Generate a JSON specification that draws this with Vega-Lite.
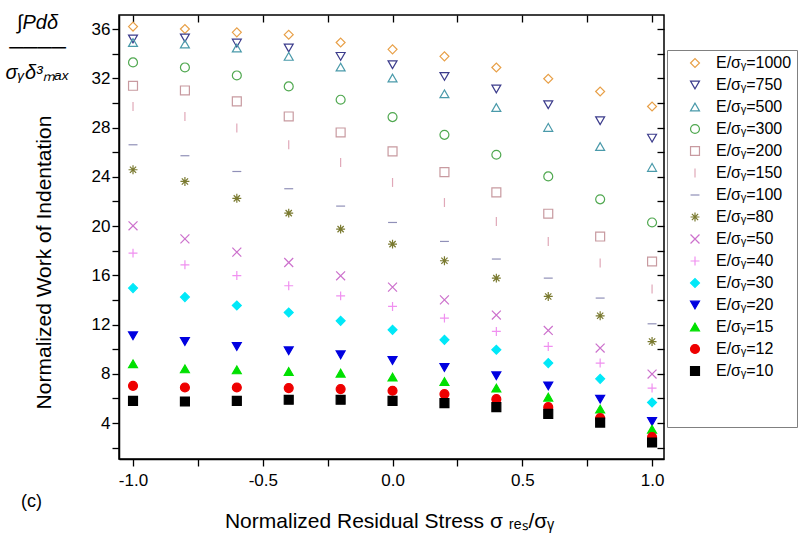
{
"$schema":"https://vega.github.io/schema/vega-lite/v6.json",
"width":545,"height":444,
"autosize":{"type":"none"},
"padding":{"left":119,"top":15,"right":139,"bottom":83},
"background":"white",
"config":{"font":"Liberation Sans","view":{"stroke":"#000","strokeWidth":1.5},
 "axis":{"grid":false,"domainColor":"#000","domainWidth":1.5,"tickColor":"#000","tickWidth":1.3,"labelColor":"#000","titleColor":"#000","labelFont":"Liberation Sans","titleFont":"Liberation Sans","titleFontWeight":"normal"}},
"datasets":{"d":[
{"s":"1000","x":-1,"y":36.2},{"s":"1000","x":-0.8,"y":36.0},{"s":"1000","x":-0.6,"y":35.73},{"s":"1000","x":-0.4,"y":35.54},{"s":"1000","x":-0.2,"y":34.91},{"s":"1000","x":0,"y":34.35},{"s":"1000","x":0.2,"y":33.78},{"s":"1000","x":0.4,"y":32.88},{"s":"1000","x":0.6,"y":31.96},{"s":"1000","x":0.8,"y":30.93},{"s":"1000","x":1,"y":29.71},
{"s":"750","x":-1,"y":35.19},{"s":"750","x":-0.8,"y":35.27},{"s":"750","x":-0.6,"y":34.86},{"s":"750","x":-0.4,"y":34.46},{"s":"750","x":-0.2,"y":33.78},{"s":"750","x":0,"y":33.1},{"s":"750","x":0.2,"y":32.15},{"s":"750","x":0.4,"y":31.13},{"s":"750","x":0.6,"y":29.85},{"s":"750","x":0.8,"y":28.55},{"s":"750","x":1,"y":27.14},
{"s":"500","x":-1,"y":34.91},{"s":"500","x":-0.8,"y":34.78},{"s":"500","x":-0.6,"y":34.46},{"s":"500","x":-0.4,"y":33.78},{"s":"500","x":-0.2,"y":32.91},{"s":"500","x":0,"y":32.02},{"s":"500","x":0.2,"y":30.74},{"s":"500","x":0.4,"y":29.63},{"s":"500","x":0.6,"y":28.01},{"s":"500","x":0.8,"y":26.46},{"s":"500","x":1,"y":24.76},
{"s":"300","x":-1,"y":33.29},{"s":"300","x":-0.8,"y":32.88},{"s":"300","x":-0.6,"y":32.23},{"s":"300","x":-0.4,"y":31.34},{"s":"300","x":-0.2,"y":30.26},{"s":"300","x":0,"y":28.85},{"s":"300","x":0.2,"y":27.41},{"s":"300","x":0.4,"y":25.79},{"s":"300","x":0.6,"y":24.03},{"s":"300","x":0.8,"y":22.17},{"s":"300","x":1,"y":20.29},
{"s":"200","x":-1,"y":31.39},{"s":"200","x":-0.8,"y":31.01},{"s":"200","x":-0.6,"y":30.12},{"s":"200","x":-0.4,"y":28.9},{"s":"200","x":-0.2,"y":27.6},{"s":"200","x":0,"y":26.06},{"s":"200","x":0.2,"y":24.38},{"s":"200","x":0.4,"y":22.73},{"s":"200","x":0.6,"y":21.0},{"s":"200","x":0.8,"y":19.15},{"s":"200","x":1,"y":17.12},
{"s":"150","x":-1,"y":29.71},{"s":"150","x":-0.8,"y":28.9},{"s":"150","x":-0.6,"y":27.96},{"s":"150","x":-0.4,"y":26.6},{"s":"150","x":-0.2,"y":25.16},{"s":"150","x":0,"y":23.54},{"s":"150","x":0.2,"y":21.91},{"s":"150","x":0.4,"y":20.37},{"s":"150","x":0.6,"y":18.75},{"s":"150","x":0.8,"y":17.0},{"s":"150","x":1,"y":14.88},
{"s":"100","x":-1,"y":26.6},{"s":"100","x":-0.8,"y":25.71},{"s":"100","x":-0.6,"y":24.43},{"s":"100","x":-0.4,"y":23.03},{"s":"100","x":-0.2,"y":21.62},{"s":"100","x":0,"y":20.29},{"s":"100","x":0.2,"y":18.75},{"s":"100","x":0.4,"y":17.32},{"s":"100","x":0.6,"y":15.77},{"s":"100","x":0.8,"y":14.15},{"s":"100","x":1,"y":12.06},
{"s":"80","x":-1,"y":24.57},{"s":"80","x":-0.8,"y":23.62},{"s":"80","x":-0.6,"y":22.25},{"s":"80","x":-0.4,"y":21.05},{"s":"80","x":-0.2,"y":19.75},{"s":"80","x":0,"y":18.53},{"s":"80","x":0.2,"y":17.18},{"s":"80","x":0.4,"y":15.77},{"s":"80","x":0.6,"y":14.28},{"s":"80","x":0.8,"y":12.71},{"s":"80","x":1,"y":10.62},
{"s":"50","x":-1,"y":20.02},{"s":"50","x":-0.8,"y":18.96},{"s":"50","x":-0.6,"y":17.88},{"s":"50","x":-0.4,"y":17.04},{"s":"50","x":-0.2,"y":15.96},{"s":"50","x":0,"y":15.04},{"s":"50","x":0.2,"y":14.0},{"s":"50","x":0.4,"y":12.77},{"s":"50","x":0.6,"y":11.52},{"s":"50","x":0.8,"y":10.09},{"s":"50","x":1,"y":7.98},
{"s":"40","x":-1,"y":17.8},{"s":"40","x":-0.8,"y":16.85},{"s":"40","x":-0.6,"y":15.98},{"s":"40","x":-0.4,"y":15.15},{"s":"40","x":-0.2,"y":14.33},{"s":"40","x":0,"y":13.47},{"s":"40","x":0.2,"y":12.52},{"s":"40","x":0.4,"y":11.44},{"s":"40","x":0.6,"y":10.22},{"s":"40","x":0.8,"y":8.87},{"s":"40","x":1,"y":6.84},
{"s":"30","x":-1,"y":14.96},{"s":"30","x":-0.8,"y":14.23},{"s":"30","x":-0.6,"y":13.55},{"s":"30","x":-0.4,"y":12.98},{"s":"30","x":-0.2,"y":12.3},{"s":"30","x":0,"y":11.57},{"s":"30","x":0.2,"y":10.76},{"s":"30","x":0.4,"y":9.95},{"s":"30","x":0.6,"y":8.87},{"s":"30","x":0.8,"y":7.59},{"s":"30","x":1,"y":5.67},
{"s":"20","x":-1,"y":11.09},{"s":"20","x":-0.8,"y":10.62},{"s":"20","x":-0.6,"y":10.22},{"s":"20","x":-0.4,"y":9.87},{"s":"20","x":-0.2,"y":9.54},{"s":"20","x":0,"y":9.08},{"s":"20","x":0.2,"y":8.51},{"s":"20","x":0.4,"y":7.84},{"s":"20","x":0.6,"y":7.02},{"s":"20","x":0.8,"y":5.94},{"s":"20","x":1,"y":4.12},
{"s":"15","x":-1,"y":8.81},{"s":"15","x":-0.8,"y":8.4},{"s":"15","x":-0.6,"y":8.32},{"s":"15","x":-0.4,"y":8.19},{"s":"15","x":-0.2,"y":8.05},{"s":"15","x":0,"y":7.73},{"s":"15","x":0.2,"y":7.37},{"s":"15","x":0.4,"y":6.84},{"s":"15","x":0.6,"y":6.1},{"s":"15","x":0.8,"y":5.13},{"s":"15","x":1,"y":3.5},
{"s":"12","x":-1,"y":7.02},{"s":"12","x":-0.8,"y":6.89},{"s":"12","x":-0.6,"y":6.89},{"s":"12","x":-0.4,"y":6.84},{"s":"12","x":-0.2,"y":6.76},{"s":"12","x":0,"y":6.62},{"s":"12","x":0.2,"y":6.35},{"s":"12","x":0.4,"y":5.94},{"s":"12","x":0.6,"y":5.29},{"s":"12","x":0.8,"y":4.4},{"s":"12","x":1,"y":2.86},
{"s":"10","x":-1,"y":5.8},{"s":"10","x":-0.8,"y":5.75},{"s":"10","x":-0.6,"y":5.8},{"s":"10","x":-0.4,"y":5.89},{"s":"10","x":-0.2,"y":5.89},{"s":"10","x":0,"y":5.8},{"s":"10","x":0.2,"y":5.62},{"s":"10","x":0.4,"y":5.29},{"s":"10","x":0.6,"y":4.75},{"s":"10","x":0.8,"y":4.04},{"s":"10","x":1,"y":2.42}
]},
"data":{"name":"d"},
"layer":[
{"mark":{"type":"point","size":80,"strokeWidth":1.2,"opacity":1},
 "encoding":{
  "x":{"field":"x","type":"quantitative","scale":{"domain":[-1.054,1.046],"nice":false,"zero":false},
   "axis":{"orient":"bottom","values":[-1,-0.75,-0.5,-0.25,0,0.25,0.5,0.75,1],"labelExpr":"abs(datum.value*2-round(datum.value*2))<0.001 ? replace(format(datum.value,'.1f'),'\u2212','-') : ''","tickSize":7,"labelPadding":6,"labelFontSize":17,"title":"Normalized Residual Stress σ ᵣₑₛ/σᵧ","titleFontSize":21,"titleX":270,"titleY":62,"titleBaseline":"middle","titleAlign":"center"}},
  "y":{"field":"y","type":"quantitative","scale":{"domain":[1.08,37.14],"nice":false,"zero":false},
   "axis":{"orient":"left","values":[2,4,6,8,10,12,14,16,18,20,22,24,26,28,30,32,34,36],"labelExpr":"datum.value % 4 == 0 ? datum.label : ''","tickSize":7,"labelPadding":2,"labelFontSize":17,"title":"Normalized Work of Indentation","titleFontSize":21,"titleX":-75,"titleY":247,"titleAngle":-90,"titleBaseline":"middle","titleAlign":"center"}},
  "shape":{"field":"s","type":"nominal","scale":{"domain":["1000","750","500","300","200","150","100","80","50","40","30","20","15","12","10"],
    "range":["diamond","triangle-down","triangle-up","circle","square","M0,-1L0,1","M-1,0L1,0","M0,-1L0,1M-1,0L1,0M-0.7,-0.7L0.7,0.7M-0.7,0.7L0.7,-0.7","M-1,-1L1,1M-1,1L1,-1","M0,-1L0,1M-1,0L1,0","diamond","triangle-down","triangle-up","circle","square"]},
    "legend":{"title":" ","orient":"none","legendX":548,"legendY":35,"strokeColor":"#808080","fillColor":"white","padding":5,"symbolOffset":15,"labelOffset":13,"labelFontSize":16,"labelFont":"Liberation Sans","labelColor":"#000","rowPadding":6,"symbolSize":80,"symbolStrokeWidth":1.2,"titleOrient":"bottom","titleFontSize":16,"titlePadding":27,"labelLimit":200,"labelExpr":"'E/σᵧ=' + datum.label"}},
  "stroke":{"field":"s","type":"nominal","scale":{"domain":["1000","750","500","300","200","150","100","80","50","40","30","20","15","12","10"],
    "range":["#e8a048","#3c3c8c","#4a9aaa","#50a850","#c89aa0","#e0a8b8","#9090b8","#7a7a30","#cc70cc","#f090f0","#00e8f8","#0000e0","#00e000","#ee0000","#000000"]},
    "legend":{"title":" ","orient":"none","legendX":548,"legendY":35,"strokeColor":"#808080","fillColor":"white","padding":5,"symbolOffset":15,"labelOffset":13,"labelFontSize":16,"labelFont":"Liberation Sans","labelColor":"#000","rowPadding":6,"symbolSize":80,"symbolStrokeWidth":1.2,"titleOrient":"bottom","titleFontSize":16,"titlePadding":27,"labelLimit":200,"labelExpr":"'E/σᵧ=' + datum.label"}},
  "fill":{"field":"s","type":"nominal","scale":{"domain":["1000","750","500","300","200","150","100","80","50","40","30","20","15","12","10"],
    "range":["transparent","transparent","transparent","transparent","transparent","transparent","transparent","transparent","transparent","transparent","#00e8f8","#0000e0","#00e000","#ee0000","#000000"]},
    "legend":{"title":" ","orient":"none","legendX":548,"legendY":35,"strokeColor":"#808080","fillColor":"white","padding":5,"symbolOffset":15,"labelOffset":13,"labelFontSize":16,"labelFont":"Liberation Sans","labelColor":"#000","rowPadding":6,"symbolSize":80,"symbolStrokeWidth":1.2,"titleOrient":"bottom","titleFontSize":16,"titlePadding":27,"labelLimit":200,"labelExpr":"'E/σᵧ=' + datum.label"}}
 }},
{"mark":{"type":"point","size":0,"strokeWidth":0},
 "encoding":{
  "x":{"field":"x","type":"quantitative","scale":{"domain":[-1.054,1.046],"nice":false,"zero":false},
   "axis":{"orient":"top","values":[-1,-0.75,-0.5,-0.25,0,0.25,0.5,0.75,1],"labels":false,"domain":false,"ticks":true,"tickColor":"#000","offset":-7,"tickSize":7,"title":["∫Pdδ","────","σᵧδ³ₘₐₓ"],"titleFontSize":20,"titleFontStyle":"italic","titleLineHeight":25,"titleX":-82,"titleY":-10,"titleAngle":0,"titleBaseline":"top","titleAlign":"center"}},
  "y":{"field":"y","type":"quantitative","scale":{"domain":[1.08,37.14],"nice":false,"zero":false},
   "axis":{"orient":"right","values":[2,4,6,8,10,12,14,16,18,20,22,24,26,28,30,32,34,36],"labels":false,"domain":false,"ticks":true,"tickColor":"#000","offset":-7,"tickSize":7,"title":"(c)","titleFontSize":18,"titleX":-626,"titleY":486,"titleAngle":0,"titleBaseline":"middle","titleAlign":"center"}}
 }}
],
"resolve":{"axis":{"x":"independent","y":"independent"}}
}
